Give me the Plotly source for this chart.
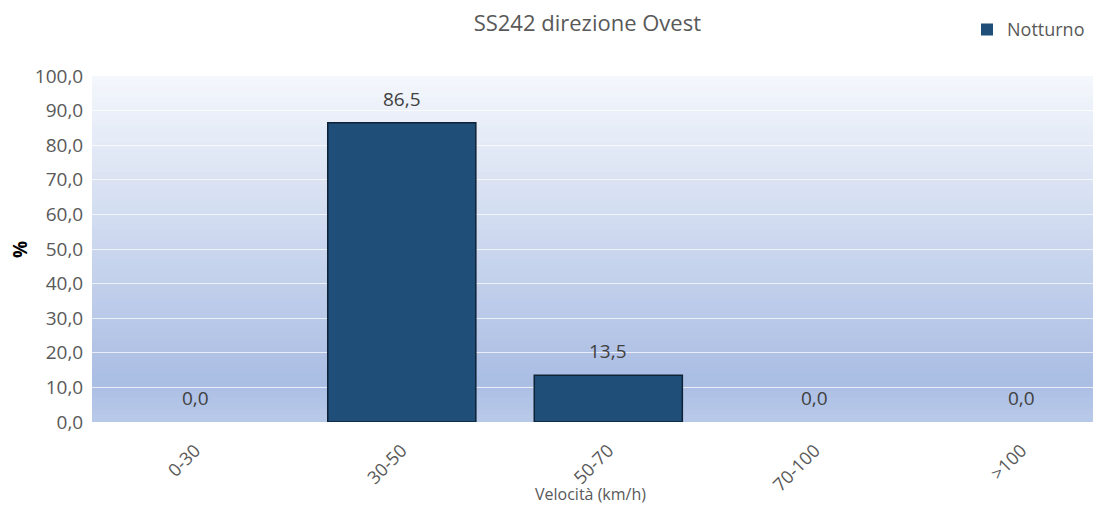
import plotly.graph_objects as go

categories = ["0-30", "30-50", "50-70", "70-100", ">100"]
values = [0.0, 86.5, 13.5, 0.0, 0.0]
series_name = "Notturno"
title_text = "SS242 direzione Ovest"
x_title = "Velocità (km/h)"
y_title = "%"

FONT = "Open Sans, Noto Sans, DejaVu Sans, sans-serif"
GRAY = "#595959"

fig = go.Figure()
fig.add_trace(go.Bar(
    x=categories, y=values, name=series_name,
    marker=dict(color="#1f4e79",
                line=dict(color="#0e2238", width=[1.5 if v > 0 else 0 for v in values])),
    cliponaxis=False,
))

label_annotations = [
    dict(x=c, y=v, xref="x", yref="y", text=("%.1f" % v).replace(".", ","),
         showarrow=False, yanchor="bottom", yshift=9,
         font=dict(size=19, color="#404040", family=FONT))
    for c, v in zip(categories, values)
]

# background vertical gradient
def lerp(a, b, t):
    return tuple(round(a[i] + (b[i] - a[i]) * t) for i in range(3))

top = (244, 247, 252)
mid = (170, 189, 227)
bot = (186, 202, 234)
n = 60
shapes = []
for i in range(n):
    t = i / n
    y0 = 1 - (i + 1) / n
    y1 = min(1.0, 1 - i / n + 0.006)
    if t < 0.88:
        c = lerp(top, mid, t / 0.88)
    else:
        c = lerp(mid, bot, (t - 0.88) / 0.12)
    shapes.append(dict(type="rect", xref="paper", yref="paper", x0=0, x1=1,
                       y0=y0, y1=y1, fillcolor="rgb(%d,%d,%d)" % c,
                       line=dict(width=0), layer="below"))

fig.update_layout(
    width=1104, height=512,
    margin=dict(l=92, r=11, t=76, b=90, autoexpand=False),
    paper_bgcolor="white", plot_bgcolor="rgba(0,0,0,0)",
    separators=",.",
    shapes=shapes,
    bargap=0.283,
    title=dict(text=title_text, x=0.532, xanchor="center", y=0.955, yanchor="middle",
               font=dict(size=22, color=GRAY, family=FONT)),
    showlegend=True,
    legend=dict(x=0.997, xanchor="right", yref="container", y=0.978, yanchor="top",
                font=dict(size=18, color=GRAY, family=FONT),
                bgcolor="rgba(0,0,0,0)", itemwidth=30),
    xaxis=dict(tickangle=-45, tickfont=dict(size=18, color=GRAY, family=FONT),
               range=[-0.5, 4.347],
               showgrid=False, zeroline=False, showline=False, automargin=False,
               ticks="outside", ticklen=10, tickcolor="rgba(0,0,0,0)"),
    yaxis=dict(range=[0, 100], dtick=10, tickformat=".1f", automargin=False,
               tickfont=dict(size=19, color=GRAY, family=FONT),
               showgrid=True, gridcolor="rgba(255,255,255,0.7)", gridwidth=1,
               zeroline=False, showline=False, ticks="outside", ticklen=4, tickcolor="rgba(0,0,0,0)"),
    annotations=label_annotations + [
        dict(text="<b>" + y_title + "</b>", textangle=-90, xref="paper", yref="paper",
             x=-0.072, xanchor="center", y=0.5, yanchor="middle", showarrow=False,
             font=dict(size=19, color="black", family=FONT)),
        dict(text=x_title, xref="paper", yref="paper", x=0.498, xanchor="center",
             y=-0.208, yanchor="middle", showarrow=False,
             font=dict(size=16, color=GRAY, family=FONT))],
)

fig.write_html("out.html", config={"displayModeBar": False},
               post_script="document.body.style.margin='0px';")
